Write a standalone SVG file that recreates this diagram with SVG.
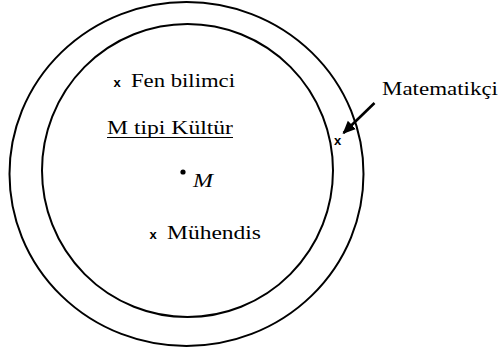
<svg xmlns="http://www.w3.org/2000/svg" width="498" height="355" viewBox="0 0 498 355">
<style>
.ring{fill:none;stroke:#000;stroke-width:2}
.t{font-family:"Liberation Serif","DejaVu Serif",serif;font-size:19px;fill:#000}
.x{font-family:"Liberation Sans",sans-serif;font-size:13px;font-weight:bold;fill:#000}
</style>
<defs>
<marker id="ah" viewBox="0 0 10 10" refX="9" refY="5" markerWidth="5" markerHeight="5" orient="auto" markerUnits="strokeWidth">
<path d="M0,0.5 L10,5 L0,9.5 Z" fill="#000"/>
</marker>
</defs>
<rect width="498" height="355" fill="#fff"/>
<g id="outer"><ellipse class="ring" cx="186.5" cy="174" rx="177" ry="172"/></g>
<g id="inner"><ellipse class="ring" cx="187.5" cy="170.5" rx="145.5" ry="146.5"/></g>
<g id="fen">
<text class="x" x="117" y="87" text-anchor="middle">x</text>
<text class="t" x="131" y="87" textLength="104" lengthAdjust="spacingAndGlyphs">Fen bilimci</text>
</g>
<g id="kultur">
<text class="t" x="107" y="134" textLength="126" lengthAdjust="spacingAndGlyphs">M tipi Kültür</text>
<line x1="107" y1="137.5" x2="233" y2="137.5" stroke="#000" stroke-width="1.2"/>
</g>
<g id="m">
<circle cx="183" cy="172" r="2.6" fill="#000"/>
<text class="t" x="193" y="187" font-style="italic" textLength="20" lengthAdjust="spacingAndGlyphs">M</text>
</g>
<g id="muhendis">
<text class="x" x="153" y="238.5" text-anchor="middle">x</text>
<text class="t" x="167" y="239" textLength="94" lengthAdjust="spacingAndGlyphs">Mühendis</text>
</g>
<g id="matematikci">
<text class="x" x="337.5" y="144.5" text-anchor="middle">x</text>
<text class="t" x="382" y="95" textLength="116" lengthAdjust="spacingAndGlyphs">Matematikçi</text>
</g>
<g id="connectors">
<line x1="374.5" y1="103" x2="343.5" y2="133" stroke="#000" stroke-width="2.6" marker-end="url(#ah)"/>
</g>
</svg>
